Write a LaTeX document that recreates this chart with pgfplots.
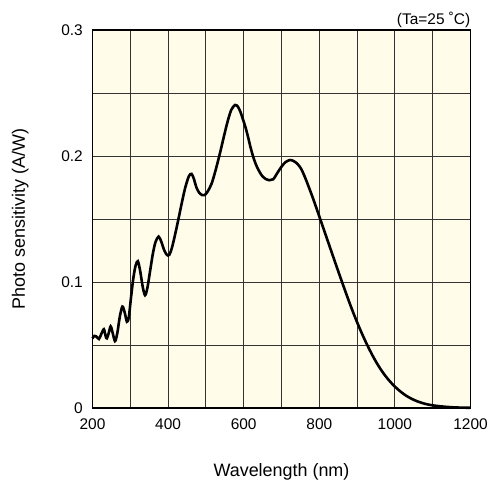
\documentclass[border=0pt]{standalone}
\usepackage{fontspec}
\setmainfont{Liberation Sans}
\usepackage{pgfplots}
\pgfplotsset{compat=1.18}
\definecolor{bgyel}{RGB}{255,252,234}
\begin{document}
\begin{tikzpicture}
\path[use as bounding box] (0,0) rectangle (490bp,480bp);
\begin{axis}[
  at={(92.5bp,72bp)}, anchor=south west,
  scale only axis, width=378bp, height=378bp,
  xmin=200, xmax=1200, ymin=0, ymax=0.3,
  xtick={200,400,600,800,1000,1200},
  xticklabels={200,400,600,800,1000,1200},
  ytick={0,0.1,0.2,0.3},
  yticklabels={0,0.1,0.2,0.3},
  minor xtick={300,500,700,900,1100},
  minor ytick={0.05,0.15,0.25},
  grid=both,
  major grid style={draw=black!80, line width=0.9bp},
  minor grid style={draw=black!80, line width=0.9bp},
  major tick length=0pt, minor tick length=0pt,
  axis line style={line width=1.8bp, black},
  axis background/.style={fill=bgyel},
  /pgf/number format/assume math mode=true,
  ticklabel style={font=\fontsize{15.5}{18}\selectfont, inner sep=0pt},
  xticklabel style={anchor=base, yshift=-21.3bp},
  yticklabel style={anchor=east, xshift=-9.5bp},
  xlabel={Wavelength (nm)},
  ylabel={Photo sensitivity (A/W)},
  label style={font=\fontsize{18}{21}\selectfont, inner sep=0pt},
  xlabel style={at={(axis description cs:0.5,-0.1825)}, anchor=base},
  ylabel style={at={(axis description cs:-0.1786,0.5)}, anchor=base},
  clip=false,
]
\addplot[black, line width=2.6bp, smooth, tension=0.5] coordinates {
(200,0.0553) (205,0.0572) (210,0.0568) (217,0.0548) (223,0.0585) (230,0.0625)
(235,0.0568) (238,0.0553) (243,0.0595) (248,0.0648) (253,0.0600) (258,0.0540)
(261,0.0535) (266,0.0600) (272,0.0720) (279,0.0805) (285,0.0760) (291,0.0685)
(296,0.0720) (302,0.0880) (308,0.1030) (314,0.1130) (320,0.1165) (326,0.1090)
(333,0.0960) (339,0.0895) (345,0.0950) (352,0.1080) (360,0.1230) (367,0.1320)
(375,0.1360) (382,0.1320) (390,0.1250) (397,0.1215) (403,0.1215) (410,0.1270)
(418,0.1370) (426,0.1480) (435,0.1610) (445,0.1745) (455,0.1840) (462,0.1858)
(468,0.1820) (475,0.1750) (482,0.1710) (490,0.1690) (497,0.1690) (505,0.1720)
(515,0.1780) (525,0.1880) (537,0.2020) (548,0.2160) (558,0.2280) (567,0.2365)
(577,0.2405) (585,0.2390) (592,0.2345) (597,0.2300) (605,0.2225) (612,0.2145)
(618,0.2070) (625,0.1995) (632,0.1935) (639,0.1890) (648,0.1845) (658,0.1818)
(668,0.1808) (678,0.1815) (690,0.1870) (700,0.1915) (710,0.1950) (722,0.1968)
(732,0.1960) (742,0.1938) (752,0.1898) (762,0.1832) (772,0.1755) (782,0.1675)
(792,0.1590) (802,0.1503) (812,0.1416) (822,0.1329) (832,0.1242) (842,0.1155)
(852,0.1069) (862,0.0984) (872,0.0900) (882,0.0818) (892,0.0740) (902,0.0666)
(912,0.0596) (922,0.0530) (932,0.0468) (942,0.0410) (952,0.0357) (962,0.0309)
(972,0.0266) (982,0.0228) (992,0.0194) (1002,0.0164) (1015,0.0130) (1030,0.0097)
(1045,0.0072) (1060,0.0052) (1080,0.0033) (1100,0.0021) (1125,0.0012) (1150,0.0006)
(1175,0.0003) (1200,0.0002)
};
\node[anchor=base east, inner sep=0pt, yshift=5bp, font=\fontsize{15.5}{18}\selectfont] at (rel axis cs:1,1) {(Ta=25 \char"02DA C)};
\end{axis}
\end{tikzpicture}
\end{document}
